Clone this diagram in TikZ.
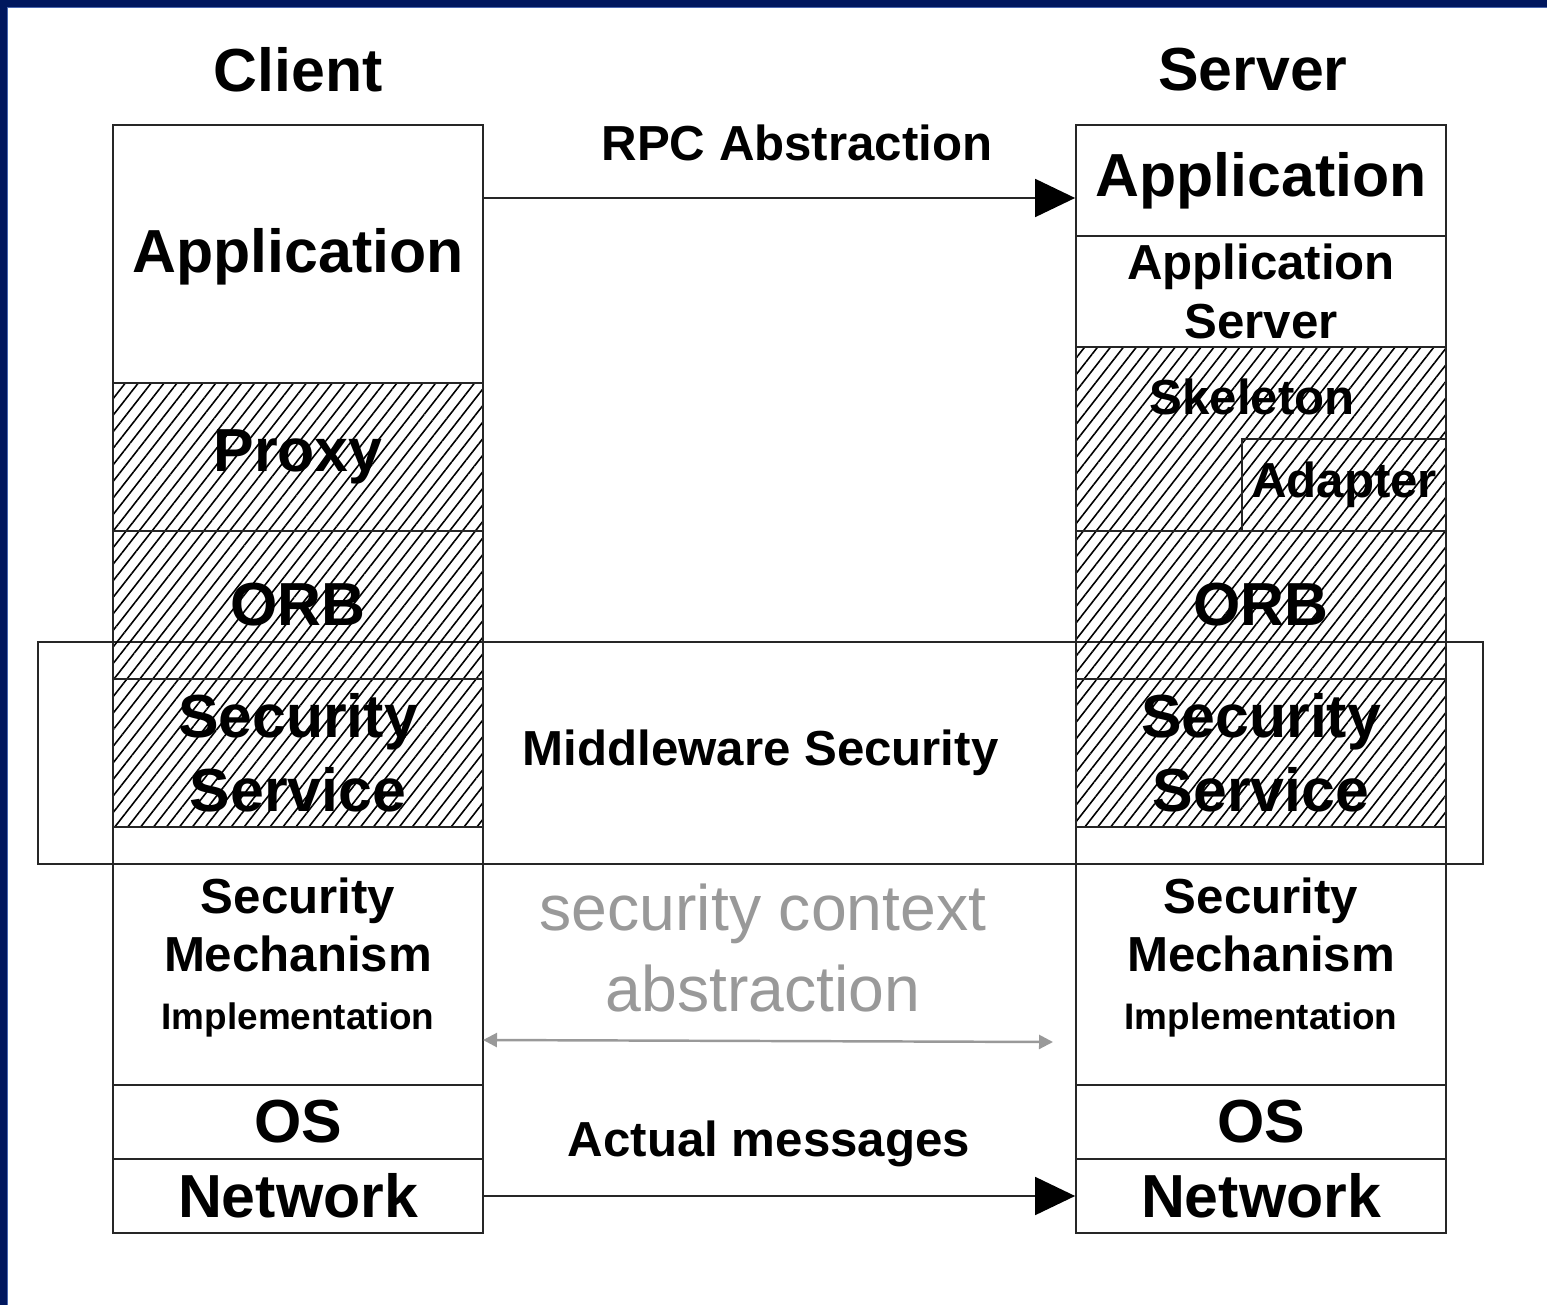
\documentclass[tikz,border=0pt]{standalone}
\usepackage{fontspec}
\setmainfont{Liberation Sans}
\usetikzlibrary{patterns.meta,arrows.meta}
\definecolor{navy}{HTML}{00175E}
\definecolor{slideedge}{HTML}{4A68B0}
\begin{document}
\begin{tikzpicture}
        \tikzstyle{layer}=[draw=black!85,line width=0.5pt,minimum width=3.7cm,inner sep=0pt,align=center]
        \tikzstyle{hatched}=[layer,pattern={Lines[angle=52,distance=2.9pt,line width=0.45pt]}]
        \tikzstyle{big}=[align=center,font=\fontsize{17.3}{21}\selectfont\bfseries]
        \tikzstyle{mid}=[align=center,font=\fontsize{14}{16.6}\selectfont\bfseries]
        \tikzstyle{msg}=[draw=black!85,line width=0.5pt,-{Triangle[length=0.4cm,width=0.38cm,fill=black,color=black]}]
        \tikzstyle{ctx}=[draw=black!40,line width=0.7pt,{Triangle[length=0.14cm,width=0.14cm]}-{Triangle[length=0.14cm,width=0.14cm]}]
        \useasboundingbox (0,0) rectangle (15.47,-13.05);
        % slide frame
        \fill [navy] (0,0) rectangle (0.07,-13.05);
        \fill [navy] (0,0) rectangle (15.47,-0.07);
        \draw [slideedge,line width=0.3pt] (0.075,-13.05) -- (0.075,-0.075) -- (15.47,-0.075);
        % middleware band
        \node [layer,mid,minimum width=14.45cm,minimum height=2.22cm] (mws) at (7.605,-7.53) {Middleware Security};
       \begin{scope}
         % client stack
         \node [big] (client) at (2.98,-0.70) {Client};
         \node [layer,big,minimum height=2.58cm] (capp) at (2.98,-2.54) {};
         \node [big] (capptxt) at (2.98,-2.57) {Application};
         \node [hatched,big,minimum height=1.48cm] (proxy) at (2.98,-4.57) {Proxy};
         \node [hatched,big,minimum height=1.48cm] (corb) at (2.98,-6.05) {ORB};
         \node [hatched,big,minimum height=1.48cm] (csec) at (2.98,-7.53) {Security\\Service};
         \node [layer,minimum height=0.37cm] (cgap) at (2.98,-8.455) {};
         \node [layer,minimum height=2.21cm] (cmech) at (2.98,-9.745) {};
         \node [mid] (cmechtxt) at (2.98,-9.575) {Security\\Mechanism\\{\fontsize{10.5}{16.6}\selectfont Implementation}};
         \node [layer,big,minimum height=0.74cm] (cos) at (2.98,-11.22) {OS};
         \node [layer,big,minimum height=0.74cm] (cnet) at (2.98,-11.96) {Network};
        \end{scope}
       \begin{scope}
         % server stack
         \node [big] (server) at (12.53,-0.70) {Server};
         \node [layer,big,minimum height=1.11cm] (sapp) at (12.61,-1.805) {Application};
         \node [layer,mid,minimum height=1.11cm] (sasrv) at (12.61,-2.915) {Application\\Server};
         \node [hatched,minimum height=1.84cm] (skel) at (12.61,-4.39) {};
         \node [mid] (skeltxt) at (12.52,-3.97) {Skeleton};
         \node [layer,mid,line width=0.4pt,minimum width=2.04cm,minimum height=0.92cm] (adapt) at (13.44,-4.85) {Adapter};
         \node [hatched,big,minimum height=1.48cm] (sorb) at (12.61,-6.05) {ORB};
         \node [hatched,big,minimum height=1.48cm] (ssec) at (12.61,-7.53) {Security\\Service};
         \node [layer,minimum height=0.37cm] (sgap) at (12.61,-8.455) {};
         \node [layer,minimum height=2.21cm] (smech) at (12.61,-9.745) {};
         \node [mid] (smechtxt) at (12.61,-9.575) {Security\\Mechanism\\{\fontsize{10.5}{16.6}\selectfont Implementation}};
         \node [layer,big,minimum height=0.74cm] (sos) at (12.61,-11.22) {OS};
         \node [layer,big,minimum height=0.74cm] (snet) at (12.61,-11.96) {Network};
        \end{scope}
        % connections between the stacks
        \node [mid] (rpc) at (7.97,-1.43) {RPC Abstraction};
        \coordinate (rpcl) at (4.83,-1.98);
        \draw [msg] (rpcl) -- (sapp.west |- rpcl);
        \node [align=center,text=black!40,font=\fontsize{18.3}{22.8}\selectfont] (ctxtxt) at (7.63,-9.48) {security context\\abstraction};
        \coordinate (ctxl) at (4.83,-10.40);
        \coordinate (ctxr) at (10.53,-10.42);
        \draw [ctx] (ctxl) -- (ctxr);
        \node [mid] (actual) at (7.69,-11.44) {Actual messages};
        \draw [msg] (cnet.east) -- (snet.west);
      \end{tikzpicture}
\end{document}
